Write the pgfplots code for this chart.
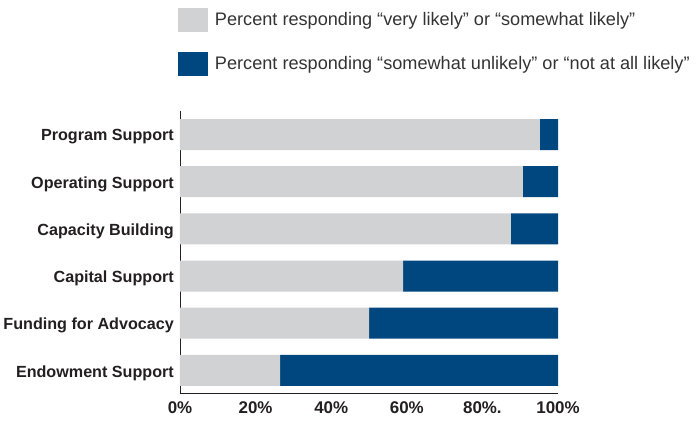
\documentclass[border=0pt]{standalone}
\usepackage{pgfplots}
\pgfplotsset{compat=1.18}
\usepackage{fontspec}
\setmainfont{Liberation Sans}
\definecolor{lgray}{HTML}{D1D2D4}
\definecolor{dblue}{HTML}{00467F}
\definecolor{txt}{HTML}{231F20}
\definecolor{legtxt}{HTML}{333333}
\begin{document}
\begin{tikzpicture}
\useasboundingbox (-180bp,-28bp) rectangle (518bp,393bp);
\begin{axis}[
  at={(0,0)}, anchor=south west,
  scale only axis, width=378bp, height=282bp,
  xbar stacked, bar width=31bp,
  xmin=0, xmax=100, ymin=-0.48, ymax=5.5,
  axis x line*=bottom, axis y line*=left,
  axis line style={-, draw=txt, line width=0.9pt},
  xtick={0,20,40,60,80,100},
  xticklabels={0\%,20\%,40\%,60\%,80\%.,100\%},
  ytick={0,1,2,3,4,5},
  yticklabels={Endowment Support,Funding for Advocacy,Capital Support,Capacity Building,Operating Support,Program Support},
  major tick length=0pt,
  yticklabel style={font=\bfseries\fontsize{16.2}{18}\selectfont, text=txt, inner sep=0pt, anchor=east, xshift=-6bp, yshift=-2.5bp},
  xticklabel style={font=\bfseries\fontsize{17}{19}\selectfont, text=txt, inner sep=0pt, anchor=north, yshift=-8bp},
  legend cell align=left,
  legend style={at={(-0.0053,1.3652)}, anchor=north west, draw=none, fill=none,
    inner sep=0pt, outer sep=0pt, row sep=19.5bp,
    font=\fontsize{18.2}{20}\selectfont, text=legtxt,
    nodes={inner sep=0pt, outer sep=0pt}},
  legend image code/.code={\fill[#1] (0bp,-12bp) rectangle (30bp,12bp); \path (37bp,0bp);},
]
\addplot[fill=lgray, draw=none] coordinates {(26.5,0) (50,1) (59,2) (87.5,3) (90.7,4) (95.2,5)};
\addplot[fill=dblue, draw=none] coordinates {(73.5,0) (50,1) (41,2) (12.5,3) (9.3,4) (4.8,5)};
\legend{Percent responding “very likely” or “somewhat likely”, Percent responding “somewhat unlikely” or “not at all likely”}
\end{axis}
\end{tikzpicture}
\end{document}
